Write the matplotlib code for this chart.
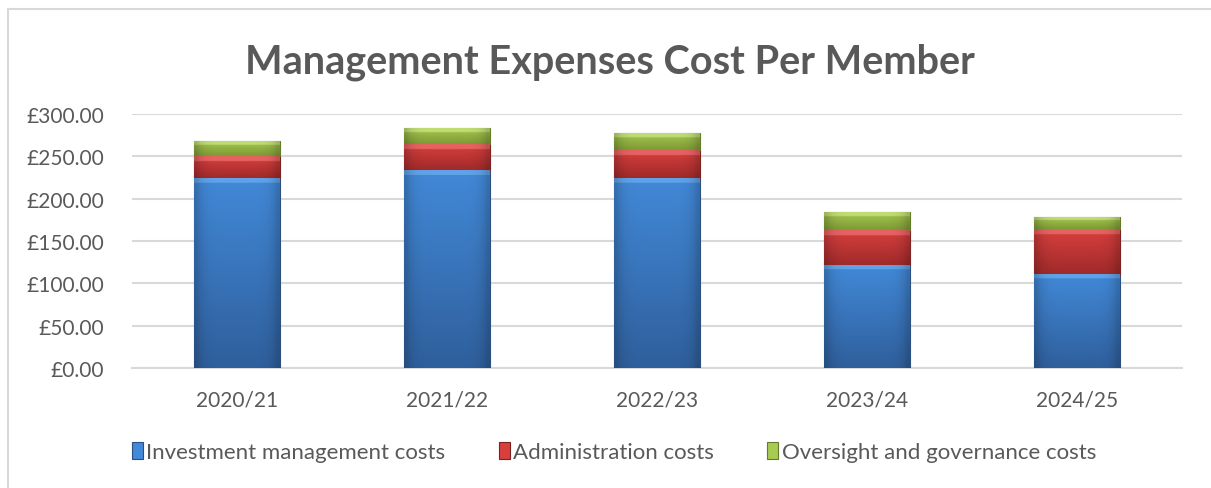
import matplotlib
matplotlib.use("Agg")
import matplotlib.pyplot as plt
import numpy as np
from matplotlib.patches import Patch
from matplotlib.lines import Line2D
from matplotlib.colors import to_rgb

categories = ["2020/21", "2021/22", "2022/23", "2023/24", "2024/25"]
investment = [224.0, 233.6, 224.5, 122.3, 111.3]
administration = [25.6, 30.6, 32.7, 40.1, 52.7]
oversight = [18.5, 19.3, 20.4, 22.0, 14.5]
series_names = ["Investment management costs", "Administration costs",
                "Oversight and governance costs"]
yticks = [0, 50, 100, 150, 200, 250, 300]
title = "Management Expenses Cost Per Member"

# colours: (highlight, top, bottom, edge)
palettes = [
    ("#74b4f2", "#4289d8", "#2f5f9c", "#2a4f80"),
    ("#f07a78", "#d8403e", "#a02a2a", "#7d2020"),
    ("#cfe889", "#a8cb52", "#7e9a35", "#647b2a"),
]

W, H, DPI = 1211, 489, 100
fig = plt.figure(figsize=(W / DPI, H / DPI), dpi=DPI)
fig.patch.set_facecolor("white")
FONT = "Lato"
TXT = "#595959"

# chart border (top and left only visible in the crop)
fig.add_artist(Line2D([8 / W, 1.01], [1 - 10 / H, 1 - 10 / H], transform=fig.transFigure,
                      color="#d9d9d9", linewidth=1.5))
fig.add_artist(Line2D([8 / W, 8 / W], [-0.01, 1 - 10 / H], transform=fig.transFigure,
                      color="#d9d9d9", linewidth=1.5))

ax = fig.add_axes([132 / W, (H - 369.3) / H, (1182 - 132) / W, (369.3 - 114.7) / H])
ax.set_xlim(-0.5, len(categories) - 0.5)
ax.set_ylim(0, 300)
ax.set_yticks(yticks)
ax.set_yticklabels([f"£{v:.2f}" for v in yticks])
ax.set_xticks(range(len(categories)))
ax.set_xticklabels(categories)
for s in ["top", "right", "left"]:
    ax.spines[s].set_visible(False)
ax.spines["bottom"].set_color("#d9d9d9")
ax.spines["bottom"].set_linewidth(1.5)
ax.grid(axis="y", color="#d9d9d9", linewidth=1.5)
ax.set_axisbelow(True)
ax.tick_params(axis="both", length=0, labelsize=15, labelcolor=TXT)
ax.tick_params(axis="y", pad=20)
ax.tick_params(axis="x", pad=15)
for lab in ax.get_xticklabels() + ax.get_yticklabels():
    lab.set_fontfamily(FONT)

x = np.arange(len(categories))
width = 0.405
bottoms = np.zeros(len(categories))
fig.canvas.draw()
px_per_unit = ax.bbox.height / 300.0

for vals, pal in zip([investment, administration, oversight], palettes):
    bars = ax.bar(x, vals, width, bottom=bottoms, color=pal[1],
                  edgecolor=pal[3], linewidth=0.8, zorder=3)
    hi, top, bot, edge = [np.array(to_rgb(c)) for c in pal]
    for b in bars:
        bx, by = b.get_x(), b.get_y()
        bw, bh = b.get_width(), b.get_height()
        n = 200
        t = np.linspace(0, 1, n)[:, None]  # 0 = top, 1 = bottom
        col = top[None, :] * (1 - t) + bot[None, :] * t
        band = min(0.3, 5.0 / (bh * px_per_unit))
        m = (t[:, 0] < band)
        col[m] = hi[None, :] * 0.6 + top[None, :] * 0.4
        img = np.repeat(col[:, None, :], 20, axis=1)
        side = np.linspace(0, 1, 20)
        shade = 1 - 0.18 * (np.abs(side - 0.5) * 2) ** 6
        img = img * shade[None, :, None]
        im = ax.imshow(img, extent=(bx, bx + bw, by, by + bh), aspect="auto",
                       zorder=3.5, interpolation="bilinear")
        im.set_clip_path(b)
    bottoms += np.array(vals)

ax.set_xlim(-0.5, len(categories) - 0.5)
ax.set_ylim(0, 300)

fig.text(610 / W, 1 - 62 / H, title, ha="center", va="center",
         fontsize=28.5, fontweight="bold", color=TXT, fontfamily=FONT)

handles = [Patch(facecolor=p[1], edgecolor=p[3], linewidth=0.8) for p in palettes]
leg = fig.legend(handles, series_names, loc="center", bbox_to_anchor=(614 / W, 1 - 453 / H),
                 ncol=3, frameon=False, handlelength=0.5, handleheight=0.8,
                 handletextpad=0.15, columnspacing=2.4,
                 prop={"family": FONT, "size": 16})
for t in leg.get_texts():
    t.set_color(TXT)

fig.savefig("out.png", dpi=DPI, facecolor="white")
